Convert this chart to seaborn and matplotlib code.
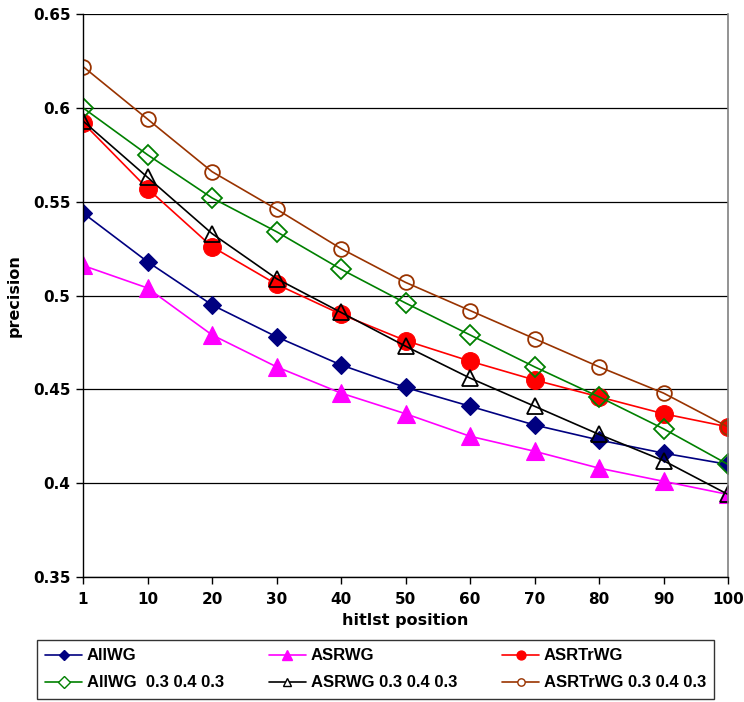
import pandas as pd
import matplotlib.pyplot as plt
import seaborn as sns

# hitlist positions (category axis)
positions = ['1', '10', '20', '30', '40', '50', '60', '70', '80', '90', '100']

# precision values per method
allwg = [0.544, 0.518, 0.495, 0.478, 0.463, 0.451, 0.441, 0.431, 0.423, 0.416, 0.410]
asrwg = [0.516, 0.504, 0.479, 0.462, 0.448, 0.437, 0.425, 0.417, 0.408, 0.401, 0.394]
asrtrwg = [0.592, 0.557, 0.526, 0.506, 0.490, 0.476, 0.465, 0.455, 0.446, 0.437, 0.430]
allwg_w = [0.600, 0.575, 0.552, 0.534, 0.514, 0.496, 0.479, 0.462, 0.446, 0.429, 0.410]
asrwg_w = [0.593, 0.563, 0.533, 0.509, 0.491, 0.473, 0.456, 0.441, 0.426, 0.412, 0.394]
asrtrwg_w = [0.622, 0.594, 0.566, 0.546, 0.525, 0.507, 0.492, 0.477, 0.462, 0.448, 0.430]

series_names = ['AllWG', 'ASRWG', 'ASRTrWG',
                'AllWG  0.3 0.4 0.3', 'ASRWG 0.3 0.4 0.3', 'ASRTrWG 0.3 0.4 0.3']
series_values = [allwg, asrwg, asrtrwg, allwg_w, asrwg_w, asrtrwg_w]

# (color, marker, markersize, filled)
styles = [
    ('#000080', 'D', 9.0, True),
    ('#FF00FF', '^', 13.5, True),
    ('#FF0000', 'o', 12.8, True),
    ('#008000', 'D', 9.8, False),
    ('#000000', '^', 11.0, False),
    ('#993300', 'o', 10.6, False),
]

sns.set_style('white')
plt.rcParams['font.family'] = ['DejaVu Sans']
plt.rcParams['font.weight'] = 'bold'
plt.rcParams['text.color'] = 'black'
plt.rcParams['axes.labelcolor'] = 'black'
plt.rcParams['xtick.color'] = 'black'
plt.rcParams['ytick.color'] = 'black'

fig = plt.figure(figsize=(7.44, 7.02), dpi=100)
ax = fig.add_axes([83 / 744, 1 - 577 / 702, (728 - 83) / 744, (577 - 14) / 702])

handles = []
for name, vals, (col, mk, ms, filled) in zip(series_names, series_values, styles):
    df = pd.DataFrame({'pos': positions, 'precision': vals})
    sns.lineplot(data=df, x='pos', y='precision', sort=False, ax=ax,
                 color=col, linewidth=1.2, marker=mk, markersize=ms,
                 markerfacecolor=col if filled else 'none',
                 markeredgecolor=col, markeredgewidth=1.3 if not filled else 0.8,
                 label=name, legend=False)
    h, = ax.plot([], [], color=col, linewidth=1.2, marker=mk,
                 markersize=ms * 0.5 if mk != 'D' else ms * 0.6,
                 markerfacecolor=col if filled else 'white',
                 markeredgecolor=col, markeredgewidth=1.0)
    handles.append(h)

ax.set_ylim(0.35, 0.65)
ax.set_xlim(0, len(positions) - 1)
ax.set_yticks([0.35, 0.4, 0.45, 0.5, 0.55, 0.6, 0.65])
ax.set_yticklabels(['0.35', '0.4', '0.45', '0.5', '0.55', '0.6', '0.65'])
ax.yaxis.grid(True, color='black', linewidth=0.9)
ax.xaxis.grid(False)
ax.set_axisbelow(True)

for s in ['left', 'bottom']:
    ax.spines[s].set_color('black')
    ax.spines[s].set_linewidth(1.0)
ax.spines['right'].set_color('#808080')
ax.spines['right'].set_linewidth(1.2)
ax.spines['top'].set_visible(False)

ax.tick_params(axis='both', direction='out', length=5, width=1.0, color='black',
               labelcolor='black', labelsize=11, pad=4, left=True, bottom=True)
ax.tick_params(axis='x', pad=6)
for lbl in ax.get_xticklabels() + ax.get_yticklabels():
    lbl.set_fontweight('bold')

ax.set_xlabel('hitlst position', fontsize=11.5, fontweight='bold', labelpad=4,
              color='black')
ax.set_ylabel('precision', fontsize=11.5, fontweight='bold', labelpad=8,
              color='black')

# legend in row-major order, like the original
order = [0, 3, 1, 4, 2, 5]
leg = fig.legend([handles[i] for i in order], [series_names[i] for i in order],
                 loc='upper left', bbox_to_anchor=(37 / 744, 1 - 640 / 702),
                 ncol=3, frameon=True, fancybox=False, edgecolor='black',
                 prop={'family': 'Liberation Sans', 'size': 12, 'weight': 'bold'},
                 handlelength=2.2, handletextpad=0.3, columnspacing=2.7,
                 labelspacing=0.72, borderpad=0.5, borderaxespad=0,
                 labelcolor='black')
leg.get_frame().set_linewidth(1.0)

fig.savefig('out.png', dpi=100)
